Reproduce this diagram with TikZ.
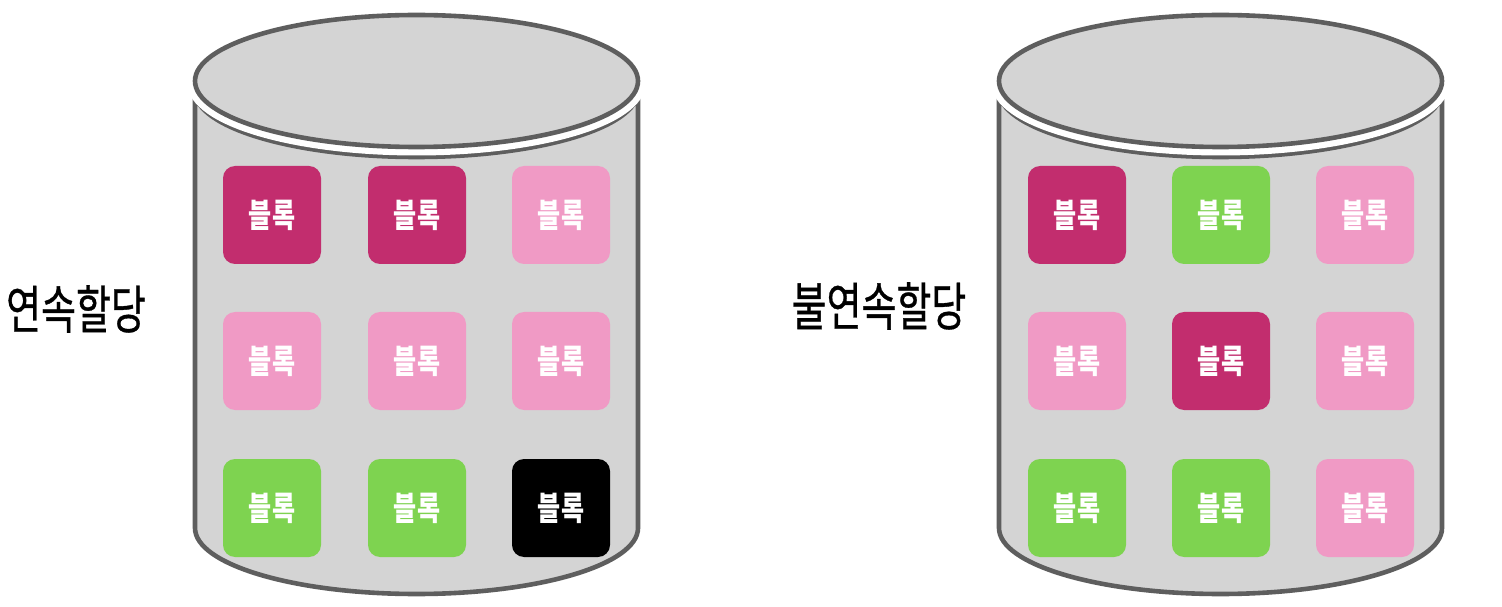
\documentclass[tikz,border=0pt]{standalone}
\usepackage{fontspec}
\newfontfamily\kr{Noto Sans CJK KR}
\newfontfamily\krmed[FakeBold=0.7]{Noto Sans CJK KR}
\definecolor{cylgray}{HTML}{5E5E5E}
\definecolor{cylfill}{HTML}{D4D4D4}
\definecolor{dkpink}{HTML}{C22D6E}
\definecolor{ltpink}{HTML}{F09AC5}
\definecolor{grn}{HTML}{7ED350}
\newcommand\blok{\scalebox{0.76}[1]{블록}}
\begin{document}
\begin{tikzpicture}[x=1pt,y=1pt]
\tikzset{
  cylline/.style={draw=cylgray,line width=4.6pt},
  blk/.style={minimum width=98pt,minimum height=98pt,rounded corners=12pt,inner sep=0pt,text=white,
    font=\kr\bfseries\fontsize{33}{33}\selectfont},
  lbl/.style={inner sep=0pt,text=black,font=\krmed\fontsize{52}{52}\selectfont},
  cyl/.pic={
    \fill[cylfill] (-221.5,525) -- (-221.5,78) arc[start angle=180,end angle=360,x radius=221.5pt,y radius=66pt] -- (221.5,525) -- cycle;
    \draw[cylline] (-221.5,515) -- (-221.5,78) arc[start angle=180,end angle=360,x radius=221.5pt,y radius=66pt] -- (221.5,515) arc[start angle=0,end angle=-180,x radius=221.5pt,y radius=66pt];
    \draw[white,line width=17pt] (0,525) ellipse[x radius=221.5pt,y radius=66pt];
    \draw[cylline,fill=cylfill] (0,525) ellipse[x radius=221.5pt,y radius=66pt];
  }
}
\useasboundingbox (0,0) rectangle (1502,606);
\fill[white] (0,0) rectangle (1502,606);
\pic (cylA) at (416.5,0) {cyl};
\pic (cylB) at (1220.5,0) {cyl};
% left blocks
\node[blk,fill=dkpink] (a11) at (272,391) {\blok};
\node[blk,fill=dkpink] (a12) at (417,391) {\blok};
\node[blk,fill=ltpink] (a13) at (561,391) {\blok};
\node[blk,fill=ltpink] (a21) at (272,245) {\blok};
\node[blk,fill=ltpink] (a22) at (417,245) {\blok};
\node[blk,fill=ltpink] (a23) at (561,245) {\blok};
\node[blk,fill=grn] (a31) at (272,98) {\blok};
\node[blk,fill=grn] (a32) at (417,98) {\blok};
\node[blk,fill=black] (a33) at (561,98) {\blok};
% right blocks
\node[blk,fill=dkpink] (b11) at (1077,391) {\blok};
\node[blk,fill=grn] (b12) at (1221,391) {\blok};
\node[blk,fill=ltpink] (b13) at (1365,391) {\blok};
\node[blk,fill=ltpink] (b21) at (1077,245) {\blok};
\node[blk,fill=dkpink] (b22) at (1221,245) {\blok};
\node[blk,fill=ltpink] (b23) at (1365,245) {\blok};
\node[blk,fill=grn] (b31) at (1077,98) {\blok};
\node[blk,fill=grn] (b32) at (1221,98) {\blok};
\node[blk,fill=ltpink] (b33) at (1365,98) {\blok};
% labels
\node[lbl] (labA) at (76,297) {\scalebox{0.73}[1]{연속할당}};
\node[lbl] (labB) at (879,300) {\scalebox{0.73}[1]{불연속할당}};
\end{tikzpicture}
\end{document}
